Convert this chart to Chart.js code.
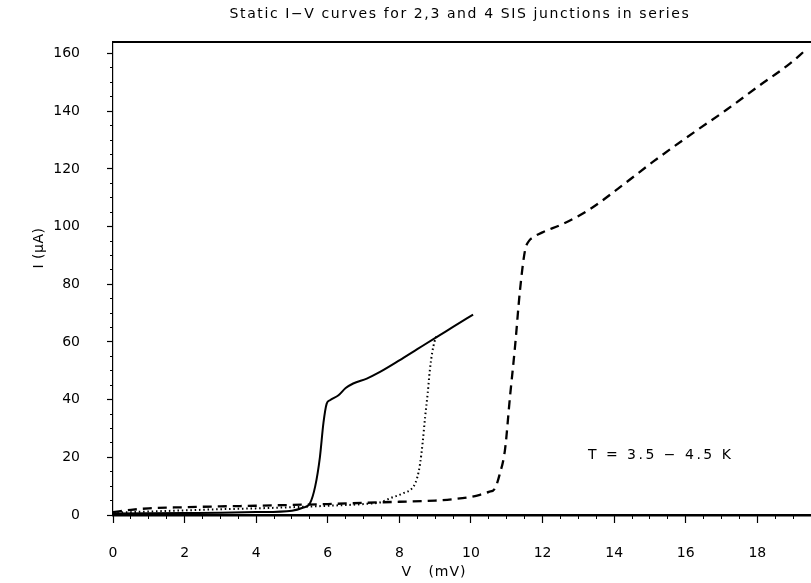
<!DOCTYPE html>
<html>
<head>
<meta charset="utf-8">
<script src="https://cdn.jsdelivr.net/npm/chart.js@4"></script>
<style>
  body { margin: 0; background: #fff; }
</style>
</head>
<body>
<canvas id="ivChart" width="811" height="583"></canvas>
<script>
// Static I-V curves, V in mV, I in uA

// 2 junctions (solid)
const v2 = [0, 1, 2, 3, 4, 5, 5.3, 5.5, 5.65, 5.78, 5.88, 5.97, 6.06, 6.3, 6.5, 6.71, 7.09, 7.46, 8, 8.5, 9.04, 9.5, 10.06];
const i2 = [0.5, 0.6, 0.7, 0.8, 1, 1.5, 2.5, 4, 10, 20, 32, 38.6, 39.8, 41.5, 44, 45.6, 47.3, 49.6, 53.6, 57.5, 61.7, 65.2, 69.5];

// 3 junctions (dotted)
const v3 = [0, 1, 2, 3, 4, 5, 6, 7, 7.5, 7.74, 8.1, 8.39, 8.5, 8.58, 8.65, 8.72, 8.79, 8.85, 8.92, 8.98, 9.04];
const i3 = [0.8, 1.2, 1.6, 2, 2.3, 2.7, 3.2, 3.8, 4.5, 5.8, 7.5, 9.8, 13, 17.9, 25, 34, 42, 50, 56.5, 60, 62];

// 4 junctions (dashed)
const v4 = [0, 0.5, 1, 2, 3, 4, 5, 6, 7, 8, 9, 9.5, 10, 10.25, 10.5, 10.67, 10.8, 10.95, 11.09, 11.23, 11.37, 11.51, 11.62, 11.74, 12, 12.58, 13.32, 14.25, 15.09, 16.21, 17.14, 18.07, 18.91, 19.33];
const i4 = [1, 1.8, 2.3, 2.7, 3, 3.2, 3.5, 3.8, 4.2, 4.6, 5, 5.5, 6.3, 7, 8, 9.2, 14, 22.5, 40.9, 58.2, 77.9, 91.7, 95, 96.3, 98, 101, 106, 114.5, 122.5, 132.5, 140.5, 149, 156.5, 161];

// axis ranges and tick steps
const xRange = [0, 19.5];
const yRange = [0, 164];
const xStep = 2, xMinorStep = 0.5;
const yStep = 20, yMinorStep = 5;

function toPoints(xs, ys) {
    return xs.map((x, k) => ({ x: x, y: ys[k] }));
}

const FONT = '"DejaVu Sans", sans-serif';

// text placed freely in the reference: title, axis titles, temperature note
const textPlugin = {
    id: 'plotText',
    afterDraw(chart) {
        const ctx = chart.ctx;
        const xs = chart.scales.x, ys = chart.scales.y;
        ctx.save();
        ctx.fillStyle = '#000';
        ctx.textAlign = 'center';
        ctx.textBaseline = 'middle';
        ctx.font = '14px ' + FONT;
        ctx.letterSpacing = '1.6px';
        ctx.fillText('Static I\u2212V curves for 2,3 and 4 SIS junctions in series', 460, 14);
        ctx.letterSpacing = '1px';
        ctx.fillText('V   (mV)', 434, 572);
        ctx.letterSpacing = '2.5px';
        ctx.fillText('T = 3.5 \u2212 4.5 K', xs.getPixelForValue(15.3), ys.getPixelForValue(20.8));
        ctx.letterSpacing = '0.5px';
        ctx.translate(39, 248);
        ctx.rotate(-Math.PI / 2);
        ctx.fillText('I (\u03bcA)', 0, 0);
        ctx.restore();
    }
};

const lineBase = {
    showLine: true,
    pointRadius: 0,
    borderColor: '#000',
    cubicInterpolationMode: 'monotone',
    fill: false
};

// tick-only axis (minor ticks): no labels, takes no room
function tickAxis(position, range, step, len, width) {
    return {
        type: 'linear', position: position, weight: 0,
        min: range[0], max: range[1],
        afterFit: (s) => { if (position === 'left') s.width = 0; else s.height = 0; },
        border: { display: false },
        grid: { drawOnChartArea: false, drawTicks: true, tickLength: len, color: '#000', tickWidth: width },
        ticks: { display: false, stepSize: step, includeBounds: false, autoSkip: false }
    };
}

new Chart(document.getElementById('ivChart'), {
    type: 'scatter',
    data: {
        datasets: [
            Object.assign({ label: '2 junctions', data: toPoints(v2, i2), borderWidth: 2 }, lineBase),
            Object.assign({ label: '3 junctions', data: toPoints(v3, i3), borderWidth: 2, borderDash: [1.5, 2.8] }, lineBase),
            Object.assign({ label: '4 junctions', data: toPoints(v4, i4), borderWidth: 2.3, borderDash: [9, 6] }, lineBase)
        ]
    },
    options: {
        responsive: false,
        animation: false,
        layout: { padding: { top: 42, left: 0, right: 0, bottom: 0 } },
        plugins: {
            legend: { display: false },
            tooltip: { enabled: false },
            title: { display: false }
        },
        scales: {
            x: {
                type: 'linear', position: 'bottom', weight: 1,
                min: xRange[0], max: xRange[1],
                afterFit: (s) => { s.height = 68; },
                border: { display: true, color: '#000', width: 2.5 },
                grid: { drawOnChartArea: false, drawTicks: true, tickLength: 8, color: '#000', tickWidth: 1.2 },
                ticks: { stepSize: xStep, includeBounds: false, autoSkip: false, maxRotation: 0, padding: 22, color: '#000', font: { family: FONT, size: 14 } }
            },
            xMinor: tickAxis('bottom', xRange, xMinorStep, 4, 1),
            xTop: {
                type: 'linear', position: 'top',
                min: 0, max: 1,
                afterFit: (s) => { s.height = 0; },
                border: { display: true, color: '#000', width: 2 },
                grid: { drawOnChartArea: false, drawTicks: false },
                ticks: { display: false }
            },
            y: {
                type: 'linear', position: 'left', weight: 1,
                min: yRange[0], max: yRange[1],
                afterFit: (s) => { s.width = 113; },
                border: { display: true, color: '#000', width: 1.2 },
                grid: { drawOnChartArea: false, drawTicks: true, tickLength: 6, color: '#000', tickWidth: 1.2 },
                ticks: { stepSize: yStep, includeBounds: false, padding: 27, color: '#000', font: { family: FONT, size: 14 } }
            },
            yMinor: tickAxis('left', yRange, yMinorStep, 3, 1)
        }
    },
    plugins: [textPlugin]
});
</script>
</body>
</html>
